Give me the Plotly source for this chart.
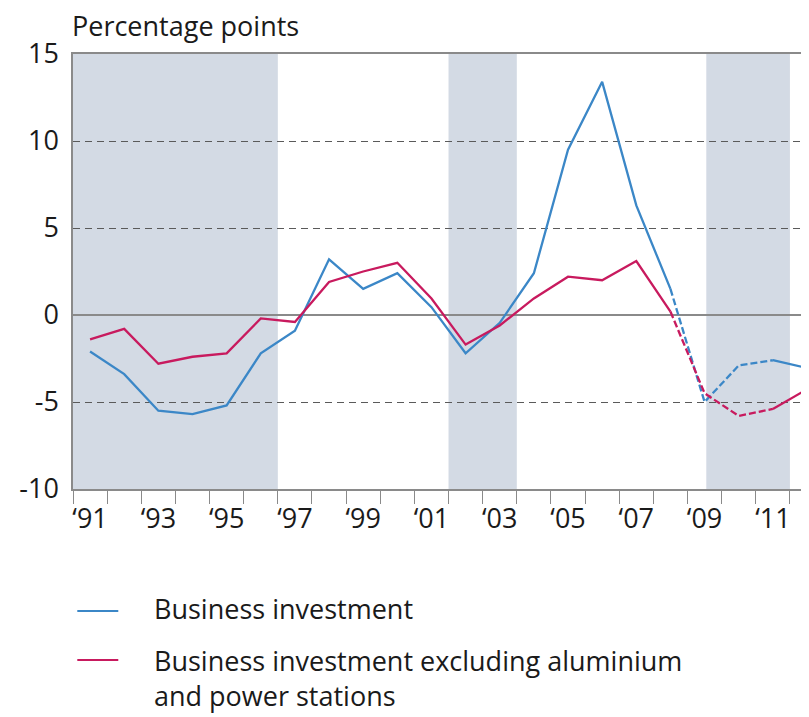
import plotly.graph_objects as go

years = list(range(1991, 2013))
business = [-2.1, -3.4, -5.5, -5.7, -5.2, -2.2, -0.9, 3.2, 1.5, 2.4, 0.45, -2.2,
            -0.45, 2.4, 9.5, 13.4, 6.3, 1.5, -5.0, -2.9, -2.6, -3.05]
business_excl = [-1.4, -0.8, -2.8, -2.4, -2.2, -0.2, -0.4, 1.9, 2.5, 3.0, 0.95, -1.7,
                 -0.6, 0.95, 2.2, 2.0, 3.1, 0.2, -4.5, -5.8, -5.4, -4.27]
# years with estimated (dashed) values
dashed_years = [2008, 2009, 2010, 2011]
# shaded periods
shade_periods = [(1990.5, 1996.5), (2001.5, 2003.5), (2009.05, 2011.5)]
label_years = list(range(1991, 2012, 2))
label_text = ["\u2018" + str(y)[2:] for y in label_years]
y_ticks = [-10, -5, 0, 5, 10, 15]
y_text = [str(v) for v in y_ticks]

BLUE = "#3b87c7"
RED = "#c81a5e"
SHADE = "#d3dae4"
FONT = "Open Sans"
FS = 27
LW = 2.3

def split(vals):
    solid = [v if not (y in dashed_years[1:-1]) else None for y, v in zip(years, vals)]
    dx = [y for y in years if y in dashed_years]
    dy = [v for y, v in zip(years, vals) if y in dashed_years]
    return solid, dx, dy

fig = go.Figure()
for vals, col, name in [(business, BLUE, "Business investment"),
                        (business_excl, RED, "Business investment excluding aluminium and power stations")]:
    solid, dx, dy = split(vals)
    fig.add_trace(go.Scatter(x=years, y=solid, mode="lines", name=name,
                             line=dict(color=col, width=LW), connectgaps=False,
                             showlegend=False))
    fig.add_trace(go.Scatter(x=dx, y=dy, mode="lines", name=name,
                             line=dict(color=col, width=LW, dash="7px,3px"),
                             showlegend=False))

for x0, x1 in shade_periods:
    fig.add_shape(type="rect", xref="x", yref="y", x0=x0, x1=x1, y0=-10, y1=15,
                  fillcolor=SHADE, line_width=0, layer="below")

# page offset (body margin) and figure size
OFF = 8
W, H = 809 - OFF, 717 - OFF
# plot area in screen pixels
SL, SR, ST, SB = 72.7, 807, 54, 489
L, R, T, B = SL - OFF, SR - OFF, ST - OFF, SB - OFF
def px(xs):
    return (xs - SL) / (SR - SL)
def py(ys):
    return (SB - ys) / (SB - ST)

# manual legend
legend_items = [("Business investment", BLUE, 611, 608),
                ("Business investment excluding aluminium<br>and power stations", RED, 660, 660)]
for text, col, ly, ty in legend_items:
    fig.add_shape(type="line", xref="paper", yref="paper", x0=px(77), x1=px(118),
                  y0=py(ly), y1=py(ly), line=dict(color=col, width=2))
    fig.add_annotation(xref="paper", yref="paper", x=px(153), y=py(ty - 19),
                       xanchor="left", yanchor="top", align="left", showarrow=False,
                       text=text, borderpad=0,
                       font=dict(family=FONT, size=FS, color="#1a1a1a"))

fig.add_annotation(xref="paper", yref="paper", x=px(70), y=py(26), xanchor="left",
                   yanchor="middle", showarrow=False, text="Percentage points",
                   font=dict(family=FONT, size=FS, color="#1a1a1a"))

fig.update_layout(
    width=W, height=H,
    margin=dict(l=L, r=W - R, t=T, b=H - B, autoexpand=False),
    paper_bgcolor="white", plot_bgcolor="white",
    font=dict(family=FONT, size=FS, color="#1a1a1a"),
    showlegend=False,
    xaxis=dict(range=[1990.5, 2012.0], tickvals=label_years, ticktext=label_text,
               ticks="", showgrid=False, zeroline=False, automargin=False,
               showline=True, linecolor="#8a8a8a", linewidth=1.5, mirror=True,
               ticklabelstandoff=5,
               minor=dict(tickvals=[y - 0.5 for y in years], ticks="outside",
                          ticklen=13, tickcolor="#8a8a8a", tickwidth=1.2, showgrid=False)),
    yaxis=dict(range=[-10, 15], tickvals=y_ticks, ticktext=y_text, ticks="",
               showgrid=True, automargin=False,
               gridcolor="#5a5a5a", griddash="7px,5px", gridwidth=1,
               zeroline=True, zerolinecolor="#8a8a8a", zerolinewidth=1.5,
               showline=True, linecolor="#8a8a8a", linewidth=1.5,
               ticklabelstandoff=7),
)

fig.write_html("out.html")
